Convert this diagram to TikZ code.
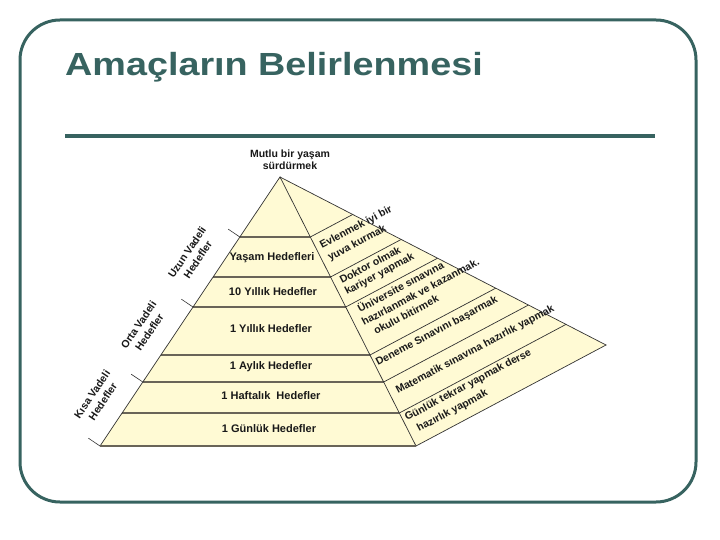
\documentclass[tikz,border=0pt]{standalone}
\usepackage{fontspec}
\setmainfont{Liberation Sans}
\usetikzlibrary{calc}
\definecolor{teal1}{RGB}{55,99,96}
\definecolor{cream}{RGB}{255,250,212}
\definecolor{sepc}{RGB}{105,100,88}
\definecolor{edgec}{RGB}{50,50,50}
\begin{document}
\begin{tikzpicture}[x=1pt,y=-1pt,
  fronttext/.style={font=\fontsize{11}{13}\selectfont\bfseries, inner sep=0pt, text=black!90},
  sidetext/.style={font=\fontsize{10.5}{12}\selectfont\bfseries, inner sep=0pt, rotate=28, anchor=base west, text=black!90},
  lefttext/.style={font=\fontsize{10.5}{13}\selectfont\bfseries, align=center, inner sep=0pt, rotate=56, text=black!90},
  frontsep/.style={sepc, line width=1.8pt},
  sidesep/.style={edgec, line width=0.7pt},
  outline/.style={edgec, line width=0.7pt},
  tickline/.style={edgec, line width=0.6pt}]
\useasboundingbox (0,0) rectangle (720,540);
\fill[white] (0,0) rectangle (720,540);
\draw[teal1, line width=3pt, rounded corners=40pt] (20,20) rectangle (696,502);
\node[anchor=base west, inner sep=0pt, text=teal1, font=\fontsize{32}{36}\selectfont\bfseries] (title) at (65,76) {\scalebox{1.18}[1]{Amaçların Belirlenmesi}};
\coordinate (r1) at (65,136);
\coordinate (r2) at (655,136);
\draw[teal1, line width=3.5pt] (r1) -- (r2);
% pyramid
\coordinate (A) at (280,177);
\coordinate (L) at (100,446);
\coordinate (F) at (416,446);
\coordinate (R) at (606,345);
\fill[cream] (A) -- (L) -- (F) -- cycle;
\fill[cream] (A) -- (F) -- (R) -- cycle;
\foreach \t [count=\i] in {0.2230,0.3717,0.4833,0.6617,0.7621,0.8773} {
  \coordinate (fl\i) at ($(A)!\t!(L)$);
  \coordinate (fr\i) at ($(A)!\t!(F)$);
  \coordinate (sr\i) at ($(A)!\t!(R)$);
  \draw[frontsep] (fl\i) -- (fr\i);
  \draw[sidesep] (fr\i) -- (sr\i);
}
\draw[outline] (L) -- (A) -- (F);
\draw[outline] (A) -- (R) -- (F);
\draw[sepc, line width=2pt] (L) -- (F);
\foreach \t [count=\i] in {0.2230,0.4833,0.7621,1} {
  \coordinate (tk\i) at ($(A)!\t!(L)$);
  \coordinate (tke\i) at ($(tk\i)+(-11.6,-7.8)$);
  \draw[tickline] (tk\i) -- (tke\i);
}
% left labels
\node[lefttext] (uzun) at ($(A)!0.3532!(L)+(-24,-16)$) {Uzun Vadeli\\Hedefler};
\node[lefttext] (orta) at ($(A)!0.6227!(L)+(-24,-16)$) {Orta Vadeli\\Hedefler};
\node[lefttext] (kisa) at ($(A)!0.8810!(L)+(-24,-16)$) {Kısa Vadeli\\Hedefler};
% apex
\node[font=\fontsize{10.5}{12}\selectfont\bfseries, align=center, inner sep=0pt, text=black!90] (apex) at (290,160) {Mutlu bir yaşam\\sürdürmek};
% front texts
\node[fronttext] (t1) at (272,258) {Yaşam Hedefleri};
\node[fronttext] (t2) at (273,292) {10 Yıllık Hedefler};
\node[fronttext] (t3) at (271,329) {1 Yıllık Hedefler};
\node[fronttext] (t4) at (271,367) {1 Aylık Hedefler};
\node[fronttext] (t5) at (271,396) {1 Haftalık\ \ Hedefler};
\node[fronttext] (t6) at (269,429) {1 Günlük Hedefler};
% side texts
\node[sidetext] (s1a) at (322,249) {Evlenmek iyi bir};
\node[sidetext] (s1b) at (330,261) {yuva kurmak};
\node[sidetext] (s2a) at (342,284) {Doktor olmak};
\node[sidetext] (s2b) at (347,295) {kariyer yapmak};
\node[sidetext] (s3a) at (360,313) {Üniversite sınavına};
\node[sidetext] (s3b) at (364,326) {hazırlanmak ve kazanmak.};
\node[sidetext] (s3c) at (376,335) {okulu bitirmek};
\node[sidetext] (s4) at (378,366) {Deneme Sınavını başarmak};
\node[sidetext] (s5) at (398,394) {Matematik sınavına hazırlık yapmak};
\node[sidetext] (s6a) at (407,421) {Günlük tekrar yapmak derse};
\node[sidetext] (s6b) at (419,432) {hazırlık yapmak};
\end{tikzpicture}
\end{document}
